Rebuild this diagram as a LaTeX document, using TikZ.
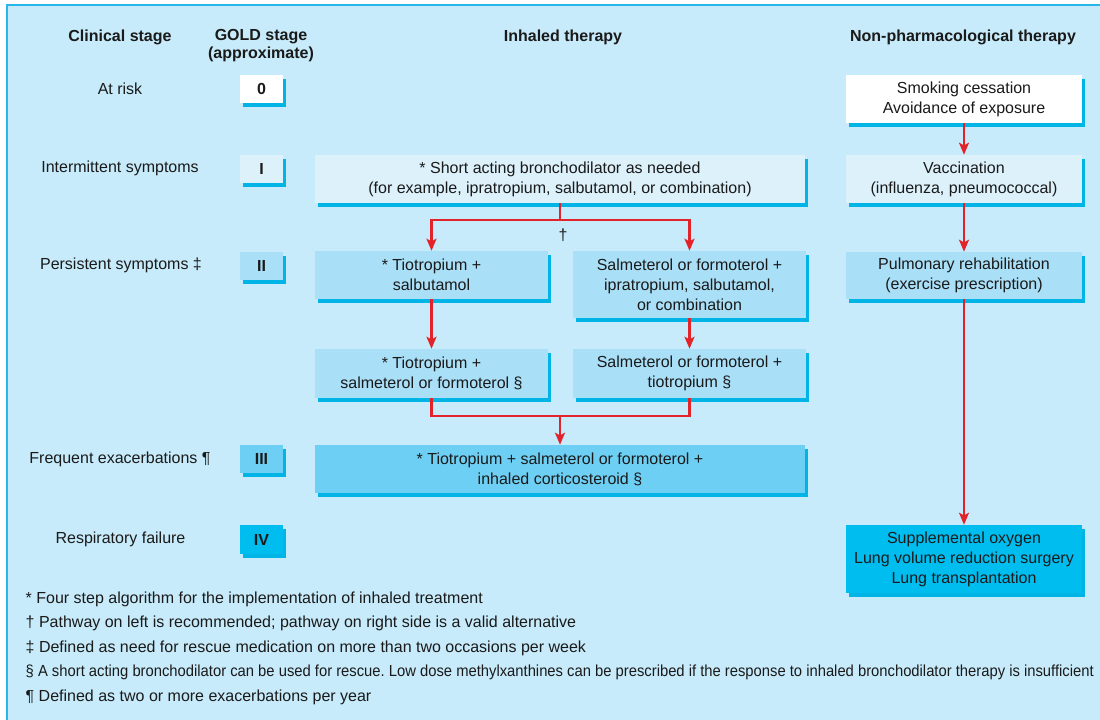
\documentclass[tikz,border=0pt]{standalone}
\usepackage{fontspec}
\setmainfont{Liberation Sans}
\newfontfamily\narrowfont[FakeStretch=0.924]{Liberation Sans}
\usetikzlibrary{arrows.meta,shadows}
\definecolor{bgc}{HTML}{C7EBFA}
\definecolor{brd}{HTML}{29B6E8}
\definecolor{shd}{HTML}{00B4E6}
\definecolor{cI}{HTML}{DDF1FB}
\definecolor{cII}{HTML}{A9DFF7}
\definecolor{cIII}{HTML}{6DCFF4}
\definecolor{cIV}{HTML}{00BDEF}
\definecolor{rd}{HTML}{E3232A}
\definecolor{txt}{HTML}{1A1A1A}
\frenchspacing
\begin{document}
\begin{tikzpicture}[x=0.75pt,y=-0.75pt,
  every node/.style={text=txt,font=\fontsize{12}{15}\selectfont},
  bx/.style={inner sep=0pt,align=center,
    drop shadow={shadow xshift=2.25pt,shadow yshift=-3pt,fill=shd,opacity=1}},
  stg/.style={bx,minimum width=32.25pt,minimum height=21pt,font=\fontsize{12}{15}\selectfont\bfseries},
  wide/.style={bx,minimum width=367.5pt,minimum height=36pt},
  half/.style={bx,minimum width=174.75pt},
  np/.style={bx,minimum width=177pt},
  hdr/.style={font=\fontsize{12}{13.5}\selectfont\bfseries,align=center},
  lbl/.style={anchor=center},
  fn/.style={anchor=west},
  con/.style={draw=rd,line width=1.6pt},
  arr/.style={con,-{Stealth[length=9pt,width=7.5pt,inset=2pt]}}]
\useasboundingbox (0,0) rectangle (1100,720);
\fill[bgc] (7,5) rectangle (1100,720);
\draw[brd,line width=1.5pt] (7,720) -- (7,5) -- (1100,5);
% headers
\node[hdr] (h1) at (120,37) {Clinical stage};
\node[hdr] (h2) at (261,46) {GOLD stage\\(approximate)};
\node[hdr] (h3) at (563,37) {Inhaled therapy};
\node[hdr] (h4) at (963,37) {Non-pharmacological therapy};
% stage labels
\node[lbl] (l0) at (120,89) {At risk};
\node[lbl] (l1) at (120,168) {Intermittent symptoms};
\node[lbl] (l2) at (121,265) {Persistent symptoms ‡};
\node[lbl] (l3) at (120,459) {Frequent exacerbations ¶};
\node[lbl] (l4) at (120.5,539) {Respiratory failure};
% stage boxes
\node[stg,fill=white] (s0) at (261.5,89) {0};
\node[stg,fill=cI] (s1) at (261.5,169) {I};
\node[stg,fill=cII] (s2) at (261.5,266) {II};
\node[stg,fill=cIII] (s3) at (261.5,459) {III};
\node[stg,fill=cIV,minimum height=22pt] (s4) at (261.5,539.5) {IV};
% inhaled therapy
\node[wide,fill=cI] (sa) at (560,179) {* Short acting bronchodilator as needed\\(for example, ipratropium, salbutamol, or combination)};
\node[half,fill=cII,minimum height=36pt] (t1) at (431.5,275) {* Tiotropium +\\salbutamol};
\node[half,fill=cII,minimum height=50.25pt] (a1) at (689.5,284.5) {Salmeterol or formoterol +\\ipratropium, salbutamol,\\or combination};
\node[half,fill=cII,minimum height=36.75pt] (t2) at (431.5,373.5) {* Tiotropium +\\salmeterol or formoterol §};
\node[half,fill=cII,minimum height=36.75pt] (a2) at (689.5,373.5) {Salmeterol or formoterol +\\tiotropium §};
\node[wide,fill=cIII] (t3) at (560,469) {* Tiotropium + salmeterol or formoterol +\\inhaled corticosteroid §};
\node (dg) at (563,235) {†};
\coordinate (split) at (560,220);
\coordinate (merge) at (560,416);
\draw[con] (sa.south) -- (split);
\draw[arr] (split) -| (t1.north);
\draw[arr] (split) -| (a1.north);
\draw[arr] (t1) -- (t2);
\draw[arr] (a1.south) -- (a2.north);
\draw[con] (t2.south) |- (merge);
\draw[con] (a2.south) |- (merge);
\draw[arr] (merge) -- (t3.north);
% non-pharmacological
\node[np,fill=white,minimum height=36pt] (n1) at (964,99) {Smoking cessation\\Avoidance of exposure};
\node[np,fill=cI,minimum height=36pt] (n2) at (964,179) {Vaccination\\(influenza, pneumococcal)};
\node[np,fill=cII,minimum height=35.25pt] (n3) at (964,275.5) {Pulmonary rehabilitation\\(exercise prescription)};
\node[np,fill=cIV,minimum height=51pt] (n4) at (964,559) {Supplemental oxygen\\Lung volume reduction surgery\\Lung transplantation};
\draw[arr] (n1) -- (n2);
\draw[arr] (n2) -- (n3);
\draw[arr] (n3) -- (n4);
% footnotes
\node[fn] (f1) at (21,599) {* Four step algorithm for the implementation of inhaled treatment};
\node[fn] (f2) at (21,623) {† Pathway on left is recommended; pathway on right side is a valid alternative};
\node[fn] (f3) at (21,648) {‡ Defined as need for rescue medication on more than two occasions per week};
\node[fn,font=\fontsize{12}{15}\narrowfont] (f4) at (21,672) {§ A short acting bronchodilator can be used for rescue. Low dose methylxanthines can be prescribed if the response to inhaled bronchodilator therapy is insufficient};
\node[fn] (f5) at (21,697) {¶ Defined as two or more exacerbations per year};
\end{tikzpicture}
\end{document}
